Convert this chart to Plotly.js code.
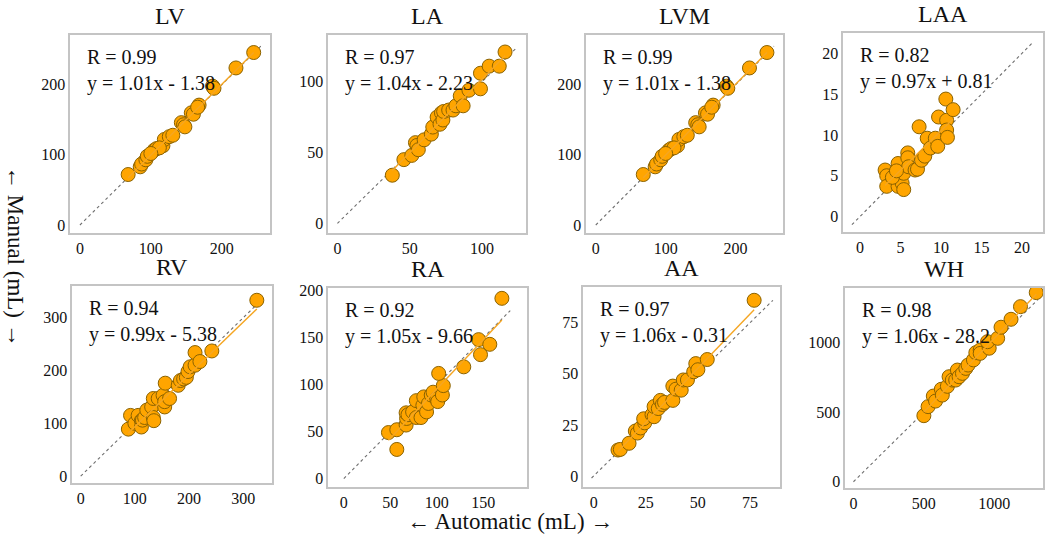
<!DOCTYPE html>
<html>
<head>
<meta charset="utf-8">
<script src="https://cdn.plot.ly/plotly-3.0.1.min.js"></script>
<style>html,body{margin:0;padding:0;background:#fff;}#chart{width:1050px;height:536px;}</style>
</head>
<body>
<div id="chart"></div>
<script>
// ---------- data ----------
const panelNames = ['LV', 'LA', 'LVM', 'LAA', 'RV', 'RA', 'AA', 'WH'];
const rValues   = ['0.99', '0.97', '0.99', '0.82', '0.94', '0.92', '0.97', '0.98'];
const slopes    = [1.01, 1.04, 1.01, 0.97, 0.99, 1.05, 1.06, 1.06];
const intercepts= [-1.38, -2.23, -1.38, 0.81, -5.38, -9.66, -0.31, -28.2];
const identityMin = [0, 0, 0, -1, 0, 0, -1, 0];
const identityMax = [255, 124, 255, 21.4, 332, 179, 86, 1310];

const lvAuto   = [68, 85, 87, 93, 95, 105, 108, 117, 119, 126, 131, 143, 146, 148, 157, 160, 168, 166, 187, 189, 220, 245, 112, 100];
const lvManual = [72, 83, 87, 93, 98, 107, 109, 113, 122, 126, 128, 146, 143, 140, 160, 158, 171, 168, 198, 195, 224, 246, 110, 102];
const laAuto   = [38, 46, 51.5, 54, 55, 56, 60, 65, 66, 69, 71, 72, 73, 73.5, 77, 80, 82, 85, 87, 91, 99, 99, 105, 112, 116];
const laManual = [34, 45, 48, 57, 55, 52, 59, 63, 68, 75, 70, 78, 73, 79, 80, 80, 83, 90, 83, 94, 106, 95, 111, 111, 121];
const lvmAuto   = [68, 85, 87, 93, 95, 105, 108, 117, 119, 126, 131, 143, 146, 148, 157, 160, 168, 166, 187, 189, 220, 245, 112, 100];
const lvmManual = [72, 83, 87, 93, 98, 107, 109, 113, 122, 126, 128, 146, 143, 140, 160, 158, 171, 168, 198, 195, 224, 246, 110, 102];
const laaAuto   = [3.1, 3.3, 3.3, 4.3, 4.7, 4.7, 5.2, 5.4, 5.4, 5.9, 5.9, 6.0, 6.8, 7.1, 7.3, 7.6, 8.0, 8.3, 8.7, 9.3, 9.6, 9.7, 10.6, 10.7, 10.7, 10.8, 11.5, 4.0, 4.5];
const laaManual = [5.7, 5.0, 3.7, 5.1, 6.5, 3.7, 4.1, 3.3, 5.3, 7.8, 7.2, 6.1, 5.7, 5.8, 11.0, 6.9, 7.4, 9.6, 8.4, 9.6, 8.6, 12.2, 14.4, 11.8, 10.6, 9.7, 13.1, 4.8, 5.6];
const rvAuto   = [88, 92, 100, 106, 112, 112, 114, 118, 122, 131, 134, 135, 134, 143, 152, 155, 155, 164, 156, 180, 184, 190, 195, 198, 202, 211, 211, 220, 242, 325];
const rvManual = [89, 115, 100, 115, 105, 93, 106, 111, 125, 131, 111, 105, 147, 147, 153, 131, 141, 147, 176, 172, 181, 184, 187, 198, 207, 210, 234, 217, 237, 333];
const raAuto   = [48, 57, 57, 67, 67.5, 67, 69, 74, 78, 78, 83, 85, 86, 89, 91, 94, 96, 100, 101, 106, 107, 102, 129, 147, 145, 157, 170];
const raManual = [49, 52, 31, 57, 64, 70, 68, 71, 65, 83, 65, 78, 87, 71, 80, 89, 92, 85, 82, 89, 99, 112, 119, 132, 148, 143, 192];
const aaAuto   = [11.7, 12.8, 17, 20, 21, 22.5, 24.5, 24, 28, 29, 29, 31, 32, 33, 34, 38, 38, 39.5, 42, 43, 45, 48, 49, 50, 54.5, 77];
const aaManual = [12.7, 13, 16, 22, 21, 23.5, 26, 28, 30, 29, 34, 33, 37, 35, 36, 37, 44, 42.5, 42, 47, 47, 51, 55, 52, 57, 86];
const whAuto   = [500, 530, 567, 583, 624, 631, 667, 679, 702, 726, 738, 750, 774, 798, 814, 852, 869, 900, 900, 964, 952, 1024, 1048, 1119, 1186, 1298];
const whManual = [475, 540, 616, 580, 665, 623, 686, 755, 731, 731, 803, 755, 779, 815, 839, 876, 928, 947, 923, 960, 1007, 1031, 1111, 1168, 1259, 1360];

const autoData   = [lvAuto, laAuto, lvmAuto, laaAuto, rvAuto, raAuto, aaAuto, whAuto];
const manualData = [lvManual, laManual, lvmManual, laaManual, rvManual, raManual, aaManual, whManual];

// ---------- layout helpers (styling only) ----------
const W = 1050, H = 536;
const boxesX = [[70,270],[328,526],[586,783],[843,1043],[72,272],[328,527],[583,780],[845,1043]];
const boxesY = [[35,233],[35,233],[35,233],[33,232],[286,483],[288,487],[287,487],[288,488]];
const xRanges = [[-14,268],[-6.5,130.5],[-14,268],[-2.1,22.6],[-16,353],[-17,197],[-5.1,89.4],[-60,1346]];
const yRanges = [[-11.4,271],[-6.8,133],[-11.4,271],[-1.9,22.5],[-13,360],[-9,203],[-5.4,92.5],[-45,1393]];
const dticks = [100, 50, 100, 5, 100, 50, 25, 500];

const serif = '"Liberation Serif", "Times New Roman", Times, "DejaVu Serif", serif';
const traces = [];
const layout = {
  width: W, height: H,
  margin: {l: 0, r: 0, t: 0, b: 0},
  paper_bgcolor: '#ffffff', plot_bgcolor: '#ffffff',
  showlegend: false,
  font: {family: serif, color: '#111'},
  annotations: []
};

function fmtEq(s, b) {
  const sign = b < 0 ? ' - ' : ' + ';
  return 'y = ' + s.toFixed(2) + 'x' + sign + Math.abs(b);
}

panelNames.forEach((name, i) => {
  const n = i + 1;
  const xa = n === 1 ? 'x' : 'x' + n;
  const ya = n === 1 ? 'y' : 'y' + n;
  const xs = autoData[i], ys = manualData[i];

  traces.push({
    x: [identityMin[i], identityMax[i]], y: [identityMin[i], identityMax[i]],
    xaxis: xa, yaxis: ya, mode: 'lines', hoverinfo: 'skip',
    line: {color: '#6e6e6e', width: 1.1, dash: '3px,3px'}
  });
  traces.push({
    x: xs, y: ys, xaxis: xa, yaxis: ya, mode: 'markers',
    marker: {size: 14, color: '#FFA500', line: {color: '#8a6200', width: 1}}
  });
  const xmin = Math.min(...xs), xmax = Math.max(...xs);
  traces.push({
    x: [xmin, xmax], y: [slopes[i]*xmin + intercepts[i], slopes[i]*xmax + intercepts[i]],
    xaxis: xa, yaxis: ya, mode: 'lines', hoverinfo: 'skip',
    line: {color: '#F5A623', width: 1.4}
  });

  const axStyle = {
    showline: true, mirror: true, linecolor: '#c4c4c4', linewidth: 1.6,
    showgrid: false, zeroline: false, ticks: '',
    tickfont: {family: serif, size: 16, color: '#111'},
    tick0: 0, dtick: dticks[i]
  };
  layout['xaxis' + (n === 1 ? '' : n)] = Object.assign({}, axStyle, {
    domain: [boxesX[i][0]/W, boxesX[i][1]/W], range: xRanges[i], anchor: ya
  });
  layout['yaxis' + (n === 1 ? '' : n)] = Object.assign({}, axStyle, {
    domain: [1 - boxesY[i][1]/H, 1 - boxesY[i][0]/H], range: yRanges[i], anchor: xa
  });

  layout.annotations.push({
    text: name, xref: 'paper', yref: 'paper', showarrow: false,
    x: (boxesX[i][0] + boxesX[i][1]) / 2 / W,
    y: 1 - (boxesY[i][0] - 19) / H, yanchor: 'middle', xanchor: 'center',
    font: {family: serif, size: 24, color: '#111'}
  });
  layout.annotations.push({
    text: 'R = ' + rValues[i] + '<br>' + fmtEq(slopes[i], intercepts[i]),
    xref: xa + ' domain', yref: ya + ' domain', showarrow: false,
    x: 0.075, y: 0.955, xanchor: 'left', yanchor: 'top', align: 'left',
    font: {family: serif, size: 20, color: '#111'}
  });
});

layout.annotations.push({
  text: '← Automatic (mL) →', xref: 'paper', yref: 'paper', showarrow: false,
  x: 510 / W, y: 1 - 521 / H, xanchor: 'center', yanchor: 'middle',
  font: {family: serif, size: 23, color: '#111'}
});
layout.annotations.push({
  text: '← Manual (mL) →', xref: 'paper', yref: 'paper', showarrow: false,
  x: 16 / W, y: 1 - 256 / H, xanchor: 'center', yanchor: 'middle', textangle: 90,
  font: {family: serif, size: 23, color: '#111'}
});

Plotly.newPlot('chart', traces, layout, {displayModeBar: false, staticPlot: true});
</script>
</body>
</html>
